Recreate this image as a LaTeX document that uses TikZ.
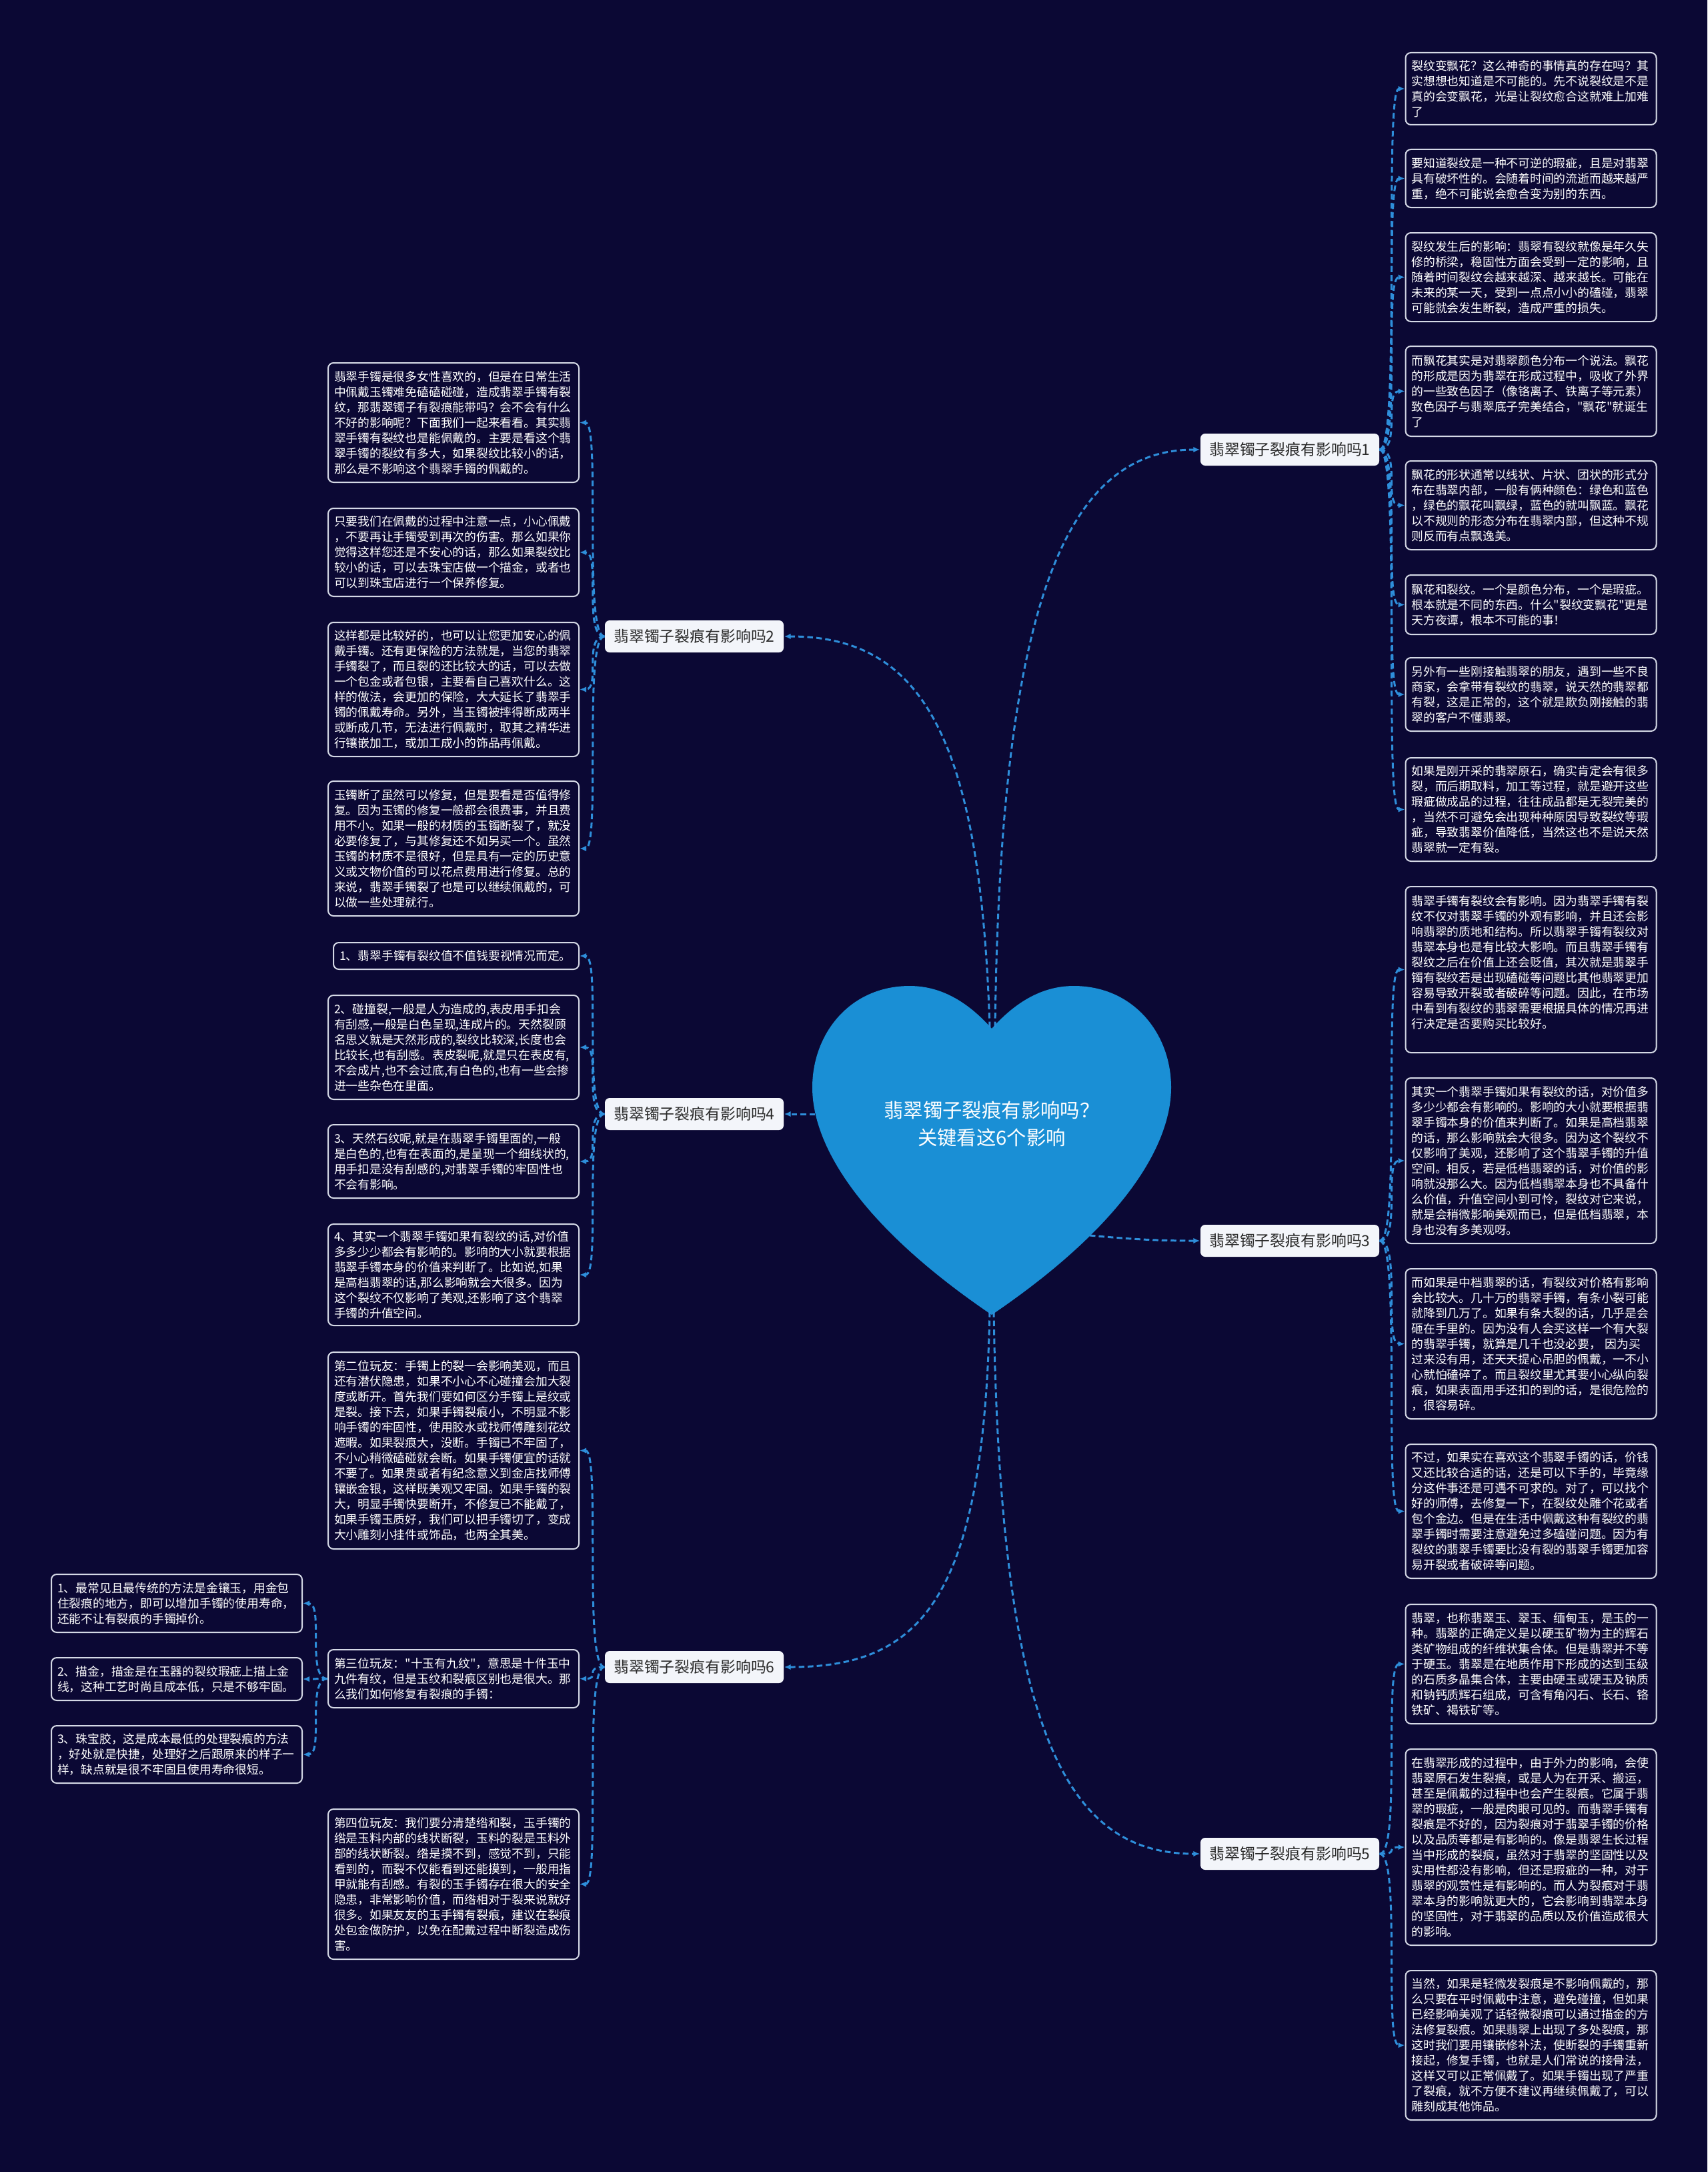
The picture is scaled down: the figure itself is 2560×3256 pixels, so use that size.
\documentclass[tikz,border=0pt]{standalone}
\usepackage{fontspec}
\newfontfamily\cjk{Noto Sans CJK SC}
\usetikzlibrary{arrows.meta}
\definecolor{bg}{HTML}{0B0834}
\definecolor{heartc}{HTML}{1A8FD5}
\definecolor{linkc}{HTML}{2E8EDA}
\definecolor{boxline}{HTML}{D5D9E6}
\definecolor{labfill}{HTML}{F3F5FA}
\definecolor{labtext}{HTML}{2A2A2A}
\begin{document}
\begin{tikzpicture}[x=0.1mm,y=-0.1mm,
  cbox/.style={draw=boxline, line width=0.2mm, rounded corners=0.8mm, fill=bg, text=white,
    font=\cjk\fontsize{5.06pt}{6.54pt}\selectfont, text width=35.8mm, align=left,
    inner xsep=0.9mm, inner ysep=0.4mm, minimum width=37.6mm},
  lab/.style={fill=labfill, rounded corners=0.7mm, text=labtext,
    font=\cjk\fontsize{6.5pt}{7.8pt}\selectfont, minimum width=26.8mm, minimum height=4.8mm, inner sep=0.5mm},
  conn/.style={draw=linkc, line width=0.85pt, dash pattern=on 0.85mm off 0.5mm,
    -{Latex[length=1.0mm,width=0.85mm]}},
]
\fill[bg] (0,0) rectangle (2560,3256);
\useasboundingbox (0,0) rectangle (2560,3256);

% heart
\fill[heartc] (1487,1542) .. controls (1520,1505) and (1560,1478) .. (1610,1478)
  .. controls (1700,1478) and (1756,1550) .. (1756,1630)
  .. controls (1756,1720) and (1680,1840) .. (1487,1971)
  .. controls (1294,1840) and (1218,1720) .. (1218,1630)
  .. controls (1218,1550) and (1274,1478) .. (1364,1478)
  .. controls (1414,1478) and (1454,1505) .. (1487,1542) -- cycle;
\node[font=\cjk\fontsize{8.35pt}{11.7pt}\selectfont, text=white, align=center] (root) at (1487,1685)
  {翡翠镯子裂痕有影响吗？\\关键看这6个影响};
\coordinate (hN1) at (1492,1540);
\coordinate (hN2) at (1484,1540);
\coordinate (hL) at (1222,1670);
\coordinate (hR) at (1634,1852);
\coordinate (hT1) at (1484,1966);
\coordinate (hT2) at (1490,1966);

% labels
\node[lab] (lab1) at (1934,674) {翡翠镯子裂痕有影响吗1};
\node[lab] (lab3) at (1934,1860) {翡翠镯子裂痕有影响吗3};
\node[lab] (lab5) at (1934,2779) {翡翠镯子裂痕有影响吗5};
\node[lab] (lab2) at (1041,954) {翡翠镯子裂痕有影响吗2};
\node[lab] (lab4) at (1041,1670) {翡翠镯子裂痕有影响吗4};
\node[lab] (lab6) at (1041,2499) {翡翠镯子裂痕有影响吗6};

% right column, branch 1
\node[cbox, minimum height=10.8mm] (R11) at (2295.5,133) {裂纹变飘花？这么神奇的事情真的存在吗？其\\实想想也知道是不可能的。先不说裂纹是不是\\真的会变飘花，光是让裂纹愈合这就难上加难\\了};
\node[cbox, minimum height=8.7mm] (R12) at (2295.5,267.5) {要知道裂纹是一种不可逆的瑕疵，且是对翡翠\\具有破坏性的。会随着时间的流逝而越来越严\\重，绝不可能说会愈合变为别的东西。};
\node[cbox, minimum height=13.3mm] (R13) at (2295.5,415.5) {裂纹发生后的影响：翡翠有裂纹就像是年久失\\修的桥梁，稳固性方面会受到一定的影响，且\\随着时间裂纹会越来越深、越来越长。可能在\\未来的某一天，受到一点点小小的磕碰，翡翠\\可能就会发生断裂，造成严重的损失。};
\node[cbox, minimum height=13.5mm] (R14) at (2295.5,586.5) {而飘花其实是对翡翠颜色分布一个说法。飘花\\的形成是因为翡翠在形成过程中，吸收了外界\\的一些致色因子（像铬离子、铁离子等元素）\\致色因子与翡翠底子完美结合，"飘花"就诞生\\了};
\node[cbox, minimum height=13.3mm] (R15) at (2295.5,757.5) {飘花的形状通常以线状、片状、团状的形式分\\布在翡翠内部，一般有俩种颜色：绿色和蓝色\\，绿色的飘花叫飘绿，蓝色的就叫飘蓝。飘花\\以不规则的形态分布在翡翠内部，但这种不规\\则反而有点飘逸美。};
\node[cbox, minimum height=8.9mm] (R16) at (2295.5,906.5) {飘花和裂纹。一个是颜色分布，一个是瑕疵。\\根本就是不同的东西。什么"裂纹变飘花"更是\\天方夜谭，根本不可能的事！};
\node[cbox, minimum height=11.0mm] (R17) at (2295.5,1041) {另外有一些刚接触翡翠的朋友，遇到一些不良\\商家，会拿带有裂纹的翡翠，说天然的翡翠都\\有裂，这是正常的，这个就是欺负刚接触的翡\\翠的客户不懂翡翠。};
\node[cbox, minimum height=15.5mm] (R18) at (2295.5,1213.5) {如果是刚开采的翡翠原石，确实肯定会有很多\\裂，而后期取料，加工等过程，就是避开这些\\瑕疵做成品的过程，往往成品都是无裂完美的\\，当然不可避免会出现种种原因导致裂纹等瑕\\疵，导致翡翠价值降低，当然这也不是说天然\\翡翠就一定有裂。};

% right column, branch 3
\node[cbox, minimum height=24.9mm] (R31) at (2295.5,1453.5) {翡翠手镯有裂纹会有影响。因为翡翠手镯有裂\\纹不仅对翡翠手镯的外观有影响，并且还会影\\响翡翠的质地和结构。所以翡翠手镯有裂纹对\\翡翠本身也是有比较大影响。而且翡翠手镯有\\裂纹之后在价值上还会贬值，其次就是翡翠手\\镯有裂纹若是出现磕碰等问题比其他翡翠更加\\容易导致开裂或者破碎等问题。因此，在市场\\中看到有裂纹的翡翠需要根据具体的情况再进\\行决定是否要购买比较好。\\~};
\node[cbox, minimum height=24.8mm] (R32) at (2295.5,1740) {其实一个翡翠手镯如果有裂纹的话，对价值多\\多少少都会有影响的。影响的大小就要根据翡\\翠手镯本身的价值来判断了。如果是高档翡翠\\的话，那么影响就会大很多。因为这个裂纹不\\仅影响了美观，还影响了这个翡翠手镯的升值\\空间。相反，若是低档翡翠的话，对价值的影\\响就没那么大。因为低档翡翠本身也不具备什\\么价值，升值空间小到可怜，裂纹对它来说，\\就是会稍微影响美观而已，但是低档翡翠，本\\身也没有多美观呀。};
\node[cbox, minimum height=22.5mm] (R33) at (2295.5,2014.5) {而如果是中档翡翠的话，有裂纹对价格有影响\\会比较大。几十万的翡翠手镯，有条小裂可能\\就降到几万了。如果有条大裂的话，几乎是会\\砸在手里的。因为没有人会买这样一个有大裂\\的翡翠手镯，就算是几千也没必要， 因为买\\过来没有用，还天天提心吊胆的佩戴，一不小\\心就怕磕碎了。而且裂纹里尤其要小心纵向裂\\痕，如果表面用手还扣的到的话，是很危险的\\，很容易碎。};
\node[cbox, minimum height=20.1mm] (R34) at (2295.5,2265.5) {不过，如果实在喜欢这个翡翠手镯的话，价钱\\又还比较合适的话，还是可以下手的，毕竟缘\\分这件事还是可遇不可求的。对了，可以找个\\好的师傅，去修复一下，在裂纹处雕个花或者\\包个金边。但是在生活中佩戴这种有裂纹的翡\\翠手镯时需要注意避免过多磕碰问题。因为有\\裂纹的翡翠手镯要比没有裂的翡翠手镯更加容\\易开裂或者破碎等问题。};

% right column, branch 5
\node[cbox, minimum height=17.9mm] (R51) at (2295.5,2494.5) {翡翠，也称翡翠玉、翠玉、缅甸玉，是玉的一\\种。翡翠的正确定义是以硬玉矿物为主的辉石\\类矿物组成的纤维状集合体。但是翡翠并不等\\于硬玉。翡翠是在地质作用下形成的达到玉级\\的石质多晶集合体，主要由硬玉或硬玉及钠质\\和钠钙质辉石组成，可含有角闪石、长石、铬\\铁矿、褐铁矿等。};
\node[cbox, minimum height=29.4mm] (R52) at (2295.5,2769) {在翡翠形成的过程中，由于外力的影响，会使\\翡翠原石发生裂痕，或是人为在开采、搬运，\\甚至是佩戴的过程中也会产生裂痕。它属于翡\\翠的瑕疵，一般是肉眼可见的。而翡翠手镯有\\裂痕是不好的，因为裂痕对于翡翠手镯的价格\\以及品质等都是有影响的。像是翡翠生长过程\\当中形成的裂痕，虽然对于翡翠的坚固性以及\\实用性都没有影响，但还是瑕疵的一种，对于\\翡翠的观赏性是有影响的。而人为裂痕对于翡\\翠本身的影响就更大的，它会影响到翡翠本身\\的坚固性，对于翡翠的品质以及价值造成很大\\的影响。};
\node[cbox, minimum height=22.4mm] (R53) at (2295.5,3066) {当然，如果是轻微发裂痕是不影响佩戴的，那\\么只要在平时佩戴中注意，避免碰撞，但如果\\已经影响美观了话轻微裂痕可以通过描金的方\\法修复裂痕。如果翡翠上出现了多处裂痕，那\\这时我们要用镶嵌修补法，使断裂的手镯重新\\接起，修复手镯，也就是人们常说的接骨法，\\这样又可以正常佩戴了。如果手镯出现了严重\\了裂痕，就不方便不建议再继续佩戴了，可以\\雕刻成其他饰品。};

% left column, branch 2
\node[cbox, minimum height=17.9mm] (L21) at (680,633.5) {翡翠手镯是很多女性喜欢的，但是在日常生活\\中佩戴玉镯难免磕磕碰碰，造成翡翠手镯有裂\\纹，那翡翠镯子有裂痕能带吗？会不会有什么\\不好的影响呢？下面我们一起来看看。其实翡\\翠手镯有裂纹也是能佩戴的。主要是看这个翡\\翠手镯的裂纹有多大，如果裂纹比较小的话，\\那么是不影响这个翡翠手镯的佩戴的。};
\node[cbox, minimum height=13.2mm] (L22) at (680,828) {只要我们在佩戴的过程中注意一点，小心佩戴\\，不要再让手镯受到再次的伤害。那么如果你\\觉得这样您还是不安心的话，那么如果裂纹比\\较小的话，可以去珠宝店做一个描金，或者也\\可以到珠宝店进行一个保养修复。};
\node[cbox, minimum height=20.1mm] (L23) at (680,1033.5) {这样都是比较好的，也可以让您更加安心的佩\\戴手镯。还有更保险的方法就是，当您的翡翠\\手镯裂了，而且裂的还比较大的话，可以去做\\一个包金或者包银，主要看自己喜欢什么。这\\样的做法，会更加的保险，大大延长了翡翠手\\镯的佩戴寿命。另外，当玉镯被摔得断成两半\\或断成几节，无法进行佩戴时，取其之精华进\\行镶嵌加工，或加工成小的饰品再佩戴。};
\node[cbox, minimum height=20.2mm] (L24) at (680,1272) {玉镯断了虽然可以修复，但是要看是否值得修\\复。因为玉镯的修复一般都会很费事，并且费\\用不小。如果一般的材质的玉镯断裂了，就没\\必要修复了，与其修复还不如另买一个。虽然\\玉镯的材质不是很好，但是具有一定的历史意\\义或文物价值的可以花点费用进行修复。总的\\来说，翡翠手镯裂了也是可以继续佩戴的，可\\以做一些处理就行。};

% left column, branch 4
\node[cbox, text width=35mm, minimum width=36.8mm, minimum height=4.0mm] (L41) at (684,1433) {1、翡翠手镯有裂纹值不值钱要视情况而定。};
\node[cbox, minimum height=15.6mm] (L42) at (680,1570) {2、碰撞裂,一般是人为造成的,表皮用手扣会\\有刮感,一般是白色呈现,连成片的。天然裂顾\\名思义就是天然形成的,裂纹比较深,长度也会\\比较长,也有刮感。表皮裂呢,就是只在表皮有,\\不会成片,也不会过底,有白色的,也有一些会掺\\进一些杂色在里面。};
\node[cbox, minimum height=11.0mm] (L43) at (680,1741) {3、天然石纹呢,就是在翡翠手镯里面的,一般\\是白色的,也有在表面的,是呈现一个细线状的,\\用手扣是没有刮感的,对翡翠手镯的牢固性也\\不会有影响。};
\node[cbox, minimum height=15.2mm] (L44) at (680,1911) {4、其实一个翡翠手镯如果有裂纹的话,对价值\\多多少少都会有影响的。影响的大小就要根据\\翡翠手镯本身的价值来判断了。比如说,如果\\是高档翡翠的话,那么影响就会大很多。因为\\这个裂纹不仅影响了美观,还影响了这个翡翠\\手镯的升值空间。};

% left column, branch 6
\node[cbox, minimum height=29.5mm] (L6a) at (680,2174.5) {第二位玩友：手镯上的裂一会影响美观，而且\\还有潜伏隐患，如果不小心不心碰撞会加大裂\\度或断开。首先我们要如何区分手镯上是纹或\\是裂。接下去，如果手镯裂痕小，不明显不影\\响手镯的牢固性，使用胶水或找师傅雕刻花纹\\遮暇。如果裂痕大，没断。手镯已不牢固了，\\不小心稍微磕碰就会断。如果手镯便宜的话就\\不要了。如果贵或者有纪念意义到金店找师傅\\镶嵌金银，这样既美观又牢固。如果手镯的裂\\大，明显手镯快要断开，不修复已不能戴了，\\如果手镯玉质好，我们可以把手镯切了，变成\\大小雕刻小挂件或饰品，也两全其美。};
\node[cbox, minimum height=8.7mm] (L6b) at (680,2516.5) {第三位玩友："十玉有九纹"，意思是十件玉中\\九件有纹，但是玉纹和裂痕区别也是很大。那\\么我们如何修复有裂痕的手镯：};
\node[cbox, minimum height=22.5mm] (L6c) at (680,2824.5) {第四位玩友：我们要分清楚绺和裂，玉手镯的\\绺是玉料内部的线状断裂，玉料的裂是玉料外\\部的线状断裂。绺是摸不到，感觉不到，只能\\看到的，而裂不仅能看到还能摸到，一般用指\\甲就能有刮感。有裂的玉手镯存在很大的安全\\隐患，非常影响价值，而绺相对于裂来说就好\\很多。如果友友的玉手镯有裂痕，建议在裂痕\\处包金做防护，以免在配戴过程中断裂造成伤\\害。};

% far left
\node[cbox, minimum height=8.7mm] (F1) at (265,2403.5) {1、最常见且最传统的方法是金镶玉，用金包\\住裂痕的地方，即可以增加手镯的使用寿命，\\还能不让有裂痕的手镯掉价。};
\node[cbox, minimum height=6.4mm] (F2) at (265,2517) {2、描金，描金是在玉器的裂纹瑕疵上描上金\\线，这种工艺时尚且成本低，只是不够牢固。};
\node[cbox, minimum height=8.6mm] (F3) at (265,2630) {3、珠宝胶，这是成本最低的处理裂痕的方法\\，好处就是快捷，处理好之后跟原来的样子一\\样，缺点就是很不牢固且使用寿命很短。};

% connectors from heart
\draw[conn] (hN1) .. controls (1500,900) and (1600,674) .. (lab1.west);
\draw[conn] (hN2) .. controls (1470,1100) and (1380,954) .. (lab2.east);
\draw[conn] (hL) -- (lab4.east);
\draw[conn] (hR) .. controls (1700,1858) and (1740,1860) .. (lab3.west);
\draw[conn] (hT1) .. controls (1475,2400) and (1380,2499) .. (lab6.east);
\draw[conn] (hT2) .. controls (1500,2600) and (1600,2779) .. (lab5.west);

% connectors to children
\foreach \c in {R11,R12,R13,R14,R15,R16,R17,R18}
  \draw[conn] (lab1.east) .. controls +(32,0) and +(-32,0) .. (\c.west);
\foreach \c in {R31,R32,R33,R34}
  \draw[conn] (lab3.east) .. controls +(32,0) and +(-32,0) .. (\c.west);
\foreach \c in {R51,R52,R53}
  \draw[conn] (lab5.east) .. controls +(32,0) and +(-32,0) .. (\c.west);
\foreach \c in {L21,L22,L23,L24}
  \draw[conn] (lab2.west) .. controls +(-32,0) and +(32,0) .. (\c.east);
\foreach \c in {L41,L42,L43,L44}
  \draw[conn] (lab4.west) .. controls +(-32,0) and +(32,0) .. (\c.east);
\foreach \c in {L6a,L6b,L6c}
  \draw[conn] (lab6.west) .. controls +(-32,0) and +(32,0) .. (\c.east);
\foreach \c in {F1,F2,F3}
  \draw[conn] (L6b.west) .. controls +(-32,0) and +(32,0) .. (\c.east);
\end{tikzpicture}
\end{document}
